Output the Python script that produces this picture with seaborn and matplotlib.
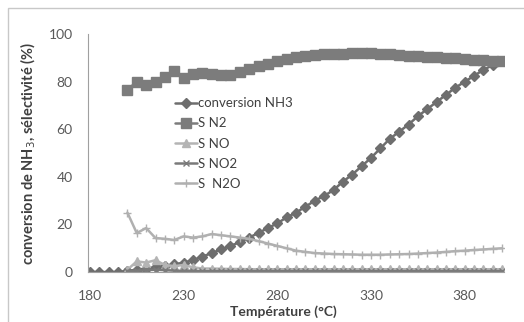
import numpy as np
import pandas as pd
import seaborn as sns
import matplotlib.pyplot as plt
from matplotlib.patches import Rectangle

# temperatures (°C)
temp_conv = list(range(180, 405, 5))
temp_sel = list(range(200, 405, 5))

conversion_nh3 = [0, 0, 0, 0, 0.5, 1, 1.5, 2, 2.5, 3.2, 4, 5, 6.5, 8, 9.5, 11,
                  12.6, 14.5, 16.5, 18.5, 20.5, 23, 25, 27.5, 30, 32, 34.5, 38,
                  41, 44.5, 48, 52, 56, 59, 62, 65.5, 68.5, 71.5, 74.5, 77.5,
                  80, 82.5, 85, 87, 88.5]
s_n2 = [76.6, 80, 78.7, 80, 82, 84.6, 81.7, 83.4, 83.5, 83.3, 83, 83, 84,
        85.5, 86.5, 87.5, 88.5, 89.5, 90.2, 90.8, 91.2, 91.5, 91.7, 91.8, 92,
        92, 92, 91.8, 91.5, 91.3, 91, 90.8, 90.5, 90.3, 90, 89.8, 89.5, 89.3,
        89, 88.8, 88.5]
s_no = [1, 4.5, 4, 5, 3, 2.5, 3, 2, 1.5, 1.5, 1.4, 1.3, 1.3, 1.2, 1.2, 1.2,
        1.2, 1.2, 1.2, 1.2, 1.2, 1.2, 1.2, 1.2, 1.2, 1.2, 1.2, 1.2, 1.2, 1.2,
        1.2, 1.2, 1.2, 1.2, 1.2, 1.2, 1.2, 1.2, 1.2, 1.2, 1.2]
s_no2 = [0.5, 0.6, 0.8, 1, 0.8, 0.6, 0.5, 0.5, 0.4, 0.4, 0.4, 0.4, 0.4, 0.4,
         0.4, 0.4, 0.4, 0.4, 0.4, 0.4, 0.4, 0.4, 0.4, 0.4, 0.4, 0.4, 0.4, 0.4,
         0.4, 0.4, 0.4, 0.4, 0.4, 0.4, 0.4, 0.4, 0.4, 0.4, 0.4, 0.4, 0.4]
s_n2o = [25, 16.4, 18.5, 14.3, 14, 13.5, 15, 14.5, 15, 16, 15.5, 15, 14.5,
         14, 13, 12, 11, 10, 9, 8.5, 8, 7.8, 7.6, 7.5, 7.4, 7.3, 7.3, 7.3,
         7.4, 7.5, 7.6, 7.8, 8, 8.2, 8.5, 8.8, 9, 9.3, 9.5, 9.8, 10]

sns.set_style("white")
plt.rcParams['font.family'] = ['Lato', 'DejaVu Sans']

fig = plt.figure(figsize=(5.24, 3.22), dpi=100)
ax = fig.add_axes([0.168, 0.155, 0.794, 0.739])

# outer chart frame (only left and top edges fall inside the image)
fig.patches.append(Rectangle((0.016, -0.1), 1.2, 1.075, transform=fig.transFigure,
                             fill=False, edgecolor='#c8c8c8', linewidth=1))

series = [
    (temp_conv, conversion_nh3, '#6e6e6e', 'D', 5, 'conversion NH3'),
    (temp_sel, s_n2, '#7c7c7c', 's', 7, 'S N2'),
    (temp_sel, s_no, '#b4b4b4', '^', 5.5, 'S NO'),
    (temp_sel, s_no2, '#7a7a7a', 'x', 5, 'S NO2'),
    (temp_sel, s_n2o, '#b0b0b0', '+', 6, 'S  N2O'),
]
for xs, ys, col, mk, ms, lab in series:
    sns.lineplot(x=xs, y=ys, ax=ax, color=col, marker=mk, markersize=ms,
                 markeredgecolor=col, markerfacecolor=col, markeredgewidth=1,
                 linewidth=1.8, label=lab)

ax.set_xlim(179, 401)
ax.set_ylim(0, 100)
ax.set_xticks([180, 230, 280, 330, 380])
ax.set_yticks([0, 20, 40, 60, 80, 100])
ax.tick_params(axis='x', labelsize=10, colors='#595959', length=0, pad=13)
ax.tick_params(axis='y', labelsize=10, colors='#595959', length=4, pad=7,
               color='#a0a0a0', direction='out', width=0.8)
for side in ['top', 'right']:
    ax.spines[side].set_visible(False)
for side in ['left', 'bottom']:
    ax.spines[side].set_color('#a0a0a0')
    ax.spines[side].set_linewidth(0.8)

ax.set_xlabel('Température (°C)', fontsize=10, fontweight='bold', color='#404040', labelpad=3)
ax.xaxis.set_label_coords(0.47, -0.14)
ax.set_ylabel('conversion de NH$_3$, sélectivité (%)', fontsize=10.5, fontweight='bold',
              color='#404040', labelpad=8)

leg = ax.legend(loc='upper left', bbox_to_anchor=(0.21, 0.735), frameon=False,
                fontsize=9.5, handlelength=1.6, handletextpad=0.15, labelspacing=0.62,
                borderaxespad=0, borderpad=0)
for t in leg.get_texts():
    t.set_color('#404040')

fig.savefig('out.png', dpi=100)
